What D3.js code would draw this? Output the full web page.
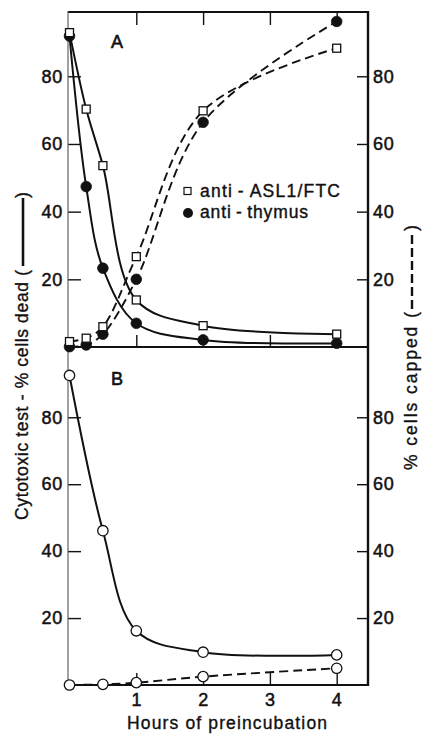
<!DOCTYPE html>
<html><head><meta charset="utf-8">
<script src="https://cdn.jsdelivr.net/npm/d3@7"></script>
<style>
html,body{margin:0;padding:0;background:#fff;}
svg{display:block;}
text{font-family:"Liberation Sans",Arial,sans-serif;fill:#111;}
</style></head>
<body>
<svg id="c" width="422" height="734"></svg>
<script>
// ---- data ----
const hoursA = [0, 0.25, 0.5, 1, 2, 4];
const aslDead = [92.9, 70.3, 53.6, 13.9, 6.3, 3.8];
const thymusDead = [91.9, 47.4, 23.3, 7.0, 2.1, 1.1];
const aslCapped = [1.6, 2.6, 6.0, 26.7, 69.8, 88.3];
const thymusCapped = [0.1, 0.6, 3.8, 20.0, 66.4, 96.2];
const hoursB = [0, 0.5, 1, 2, 4];
const controlDead = [92.5, 46.1, 16.2, 9.8, 9.0];
const controlCapped = [0.0, 0.2, 0.7, 2.5, 5.0];
const yTicks = [20, 40, 60, 80];
const xTicks = [1, 2, 3, 4];
const legendLabels = ["anti\u2009-\u2009ASL1/FTC", "anti\u2009-\u2009thymus"];
const panelLabels = ["A", "B"];
const xTitle = "Hours of preincubation";
const yTitleLeft = "Cytotoxic test - % cells dead (";
const yTitleRight = "% cells capped (";

// ---- layout ----
const L = 68, R = 368, TOP = 12, MID = 347, BOT = 685;
const svg = d3.select("#c");
const x = d3.scaleLinear().domain([0, 4]).range([69.5, 336.7]);
const yA = d3.scaleLinear().domain([0, 99]).range([MID, TOP]);
const yB = d3.scaleLinear().domain([0, 101]).range([BOT, MID]);

function styleAxis(g) {
  g.select(".domain").remove();
  g.attr("font-family", null).attr("font-size", null);
  g.selectAll(".tick line").attr("stroke", "#111").attr("stroke-width", 1.4);
  g.selectAll(".tick text").attr("font-size", 18).attr("letter-spacing", 0.8)
    .attr("stroke", "#111").attr("stroke-width", 0.5).attr("fill", "#111");
}

// y axes
[yA, yB].forEach(y => {
  const gl = svg.append("g").attr("transform", `translate(${L},0)`)
    .call(d3.axisLeft(y).tickValues(yTicks).tickSizeInner(-13).tickSizeOuter(0).tickPadding(5));
  styleAxis(gl);
  const gr = svg.append("g").attr("transform", `translate(${R},0)`)
    .call(d3.axisRight(y).tickValues(yTicks).tickSizeInner(-11).tickSizeOuter(0).tickPadding(5));
  styleAxis(gr);
});
// x axes
const gt = svg.append("g").attr("transform", `translate(0,${TOP})`)
  .call(d3.axisTop(x).tickValues(xTicks).tickSizeInner(-13).tickSizeOuter(0).tickFormat(""));
styleAxis(gt);
const gm = svg.append("g").attr("transform", `translate(0,${MID})`)
  .call(d3.axisBottom(x).tickValues(xTicks).tickSizeInner(-12).tickSizeOuter(0).tickFormat(""));
styleAxis(gm);
const gb = svg.append("g").attr("transform", `translate(0,${BOT})`)
  .call(d3.axisBottom(x).tickValues(xTicks).tickSizeInner(-12).tickSizeOuter(0).tickPadding(8).tickFormat(d3.format("d")));
styleAxis(gb);

// frame
const frame = svg.append("g").attr("stroke", "#111").attr("fill", "none");
frame.append("line").attr("x1", L).attr("x2", R).attr("y1", TOP).attr("y2", TOP).attr("stroke-width", 1.8);
frame.append("line").attr("x1", L).attr("x2", R + 1).attr("y1", MID).attr("y2", MID).attr("stroke-width", 2);
frame.append("line").attr("x1", L).attr("x2", R + 1).attr("y1", BOT).attr("y2", BOT).attr("stroke-width", 2);
frame.append("line").attr("x1", R).attr("x2", R).attr("y1", TOP - 1).attr("y2", BOT + 1).attr("stroke-width", 2.4);
frame.append("line").attr("x1", L).attr("x2", L).attr("y1", TOP - 1).attr("y2", BOT + 1).attr("stroke-width", 1.1).attr("stroke", "#555");

// lines
function drawLine(hours, vals, y, dashed) {
  const pts = hours.map((h, i) => [h, vals[i]]);
  svg.append("path").datum(pts)
    .attr("fill", "none").attr("stroke", "#111")
    .attr("stroke-width", dashed ? 1.9 : 2)
    .attr("stroke-dasharray", dashed ? "9,5" : null)
    .attr("d", d3.line().x(d => x(d[0])).y(d => y(d[1])).curve(d3.curveCatmullRom.alpha(0.5)));
  return pts;
}
const pAslDead = drawLine(hoursA, aslDead, yA, false);
const pThyDead = drawLine(hoursA, thymusDead, yA, false);
const pAslCap = drawLine(hoursA, aslCapped, yA, true);
const pThyCap = drawLine(hoursA, thymusCapped, yA, true);
const pCtlDead = drawLine(hoursB, controlDead, yB, false);
const pCtlCap = drawLine(hoursB, controlCapped, yB, true);

// markers
function circles(pts, y, filled) {
  svg.append("g").selectAll("circle").data(pts).join("circle")
    .attr("cx", d => x(d[0])).attr("cy", d => y(d[1])).attr("r", filled ? 5.3 : 5.2)
    .attr("fill", filled ? "#111" : "#fff").attr("stroke", "#111").attr("stroke-width", filled ? 0.8 : 1.3);
}
function squares(pts, y) {
  const s = 8;
  svg.append("g").selectAll("rect").data(pts).join("rect")
    .attr("x", d => x(d[0]) - s / 2).attr("y", d => y(d[1]) - s / 2)
    .attr("width", s).attr("height", s)
    .attr("fill", "#fff").attr("stroke", "#111").attr("stroke-width", 1.3);
}
circles(pThyDead, yA, true);
circles(pThyCap, yA, true);
squares(pAslDead, yA);
squares(pAslCap, yA);
circles(pCtlDead, yB, false);
circles(pCtlCap, yB, false);

// legend
const lg = svg.append("g");
lg.append("rect").attr("x", 184).attr("y", 187.5).attr("width", 7).attr("height", 7)
  .attr("fill", "#fff").attr("stroke", "#111").attr("stroke-width", 1.2);
lg.append("circle").attr("cx", 188).attr("cy", 213).attr("r", 5).attr("fill", "#111");
lg.append("text").attr("x", 200).attr("y", 196.5).attr("font-size", 17.5)
  .attr("textLength", 140).attr("lengthAdjust", "spacing")
  .attr("stroke", "#111").attr("stroke-width", 0.4).text(legendLabels[0]);
lg.append("text").attr("x", 200).attr("y", 218).attr("font-size", 17.5)
  .attr("textLength", 108).attr("lengthAdjust", "spacing")
  .attr("stroke", "#111").attr("stroke-width", 0.4).text(legendLabels[1]);

// panel labels
svg.append("text").attr("x", 111).attr("y", 48).attr("font-size", 18)
  .attr("stroke", "#111").attr("stroke-width", 0.6).text(panelLabels[0]);
svg.append("text").attr("x", 111).attr("y", 385).attr("font-size", 18)
  .attr("stroke", "#111").attr("stroke-width", 0.6).text(panelLabels[1]);

// x title
svg.append("text").attr("x", 127).attr("y", 729).attr("font-size", 17.5)
  .attr("textLength", 200).attr("lengthAdjust", "spacing")
  .attr("stroke", "#111").attr("stroke-width", 0.35).text(xTitle);

// left y title
const lt = svg.append("g").attr("transform", "translate(28,520) rotate(-90)");
lt.append("text").attr("x", 0).attr("y", 0).attr("font-size", 17.5)
  .attr("textLength", 250).attr("lengthAdjust", "spacing")
  .attr("stroke", "#111").attr("stroke-width", 0.35).text(yTitleLeft);
lt.append("line").attr("x1", 254).attr("x2", 322).attr("y1", -5).attr("y2", -5)
  .attr("stroke", "#111").attr("stroke-width", 2.6);
lt.append("text").attr("x", 322).attr("y", 0).attr("font-size", 17.5)
  .attr("stroke", "#111").attr("stroke-width", 0.35).text(")");

// right y title
const rt = svg.append("g").attr("transform", "translate(417,470) rotate(-90)");
rt.append("text").attr("x", 0).attr("y", 0).attr("font-size", 17.5)
  .attr("textLength", 158).attr("lengthAdjust", "spacing")
  .attr("stroke", "#111").attr("stroke-width", 0.35).text(yTitleRight);
rt.append("line").attr("x1", 161).attr("x2", 239).attr("y1", -5).attr("y2", -5)
  .attr("stroke", "#111").attr("stroke-width", 2.4).attr("stroke-dasharray", "9,4");
rt.append("text").attr("x", 239).attr("y", 0).attr("font-size", 17.5)
  .attr("stroke", "#111").attr("stroke-width", 0.35).text(")");
</script>
</body></html>
